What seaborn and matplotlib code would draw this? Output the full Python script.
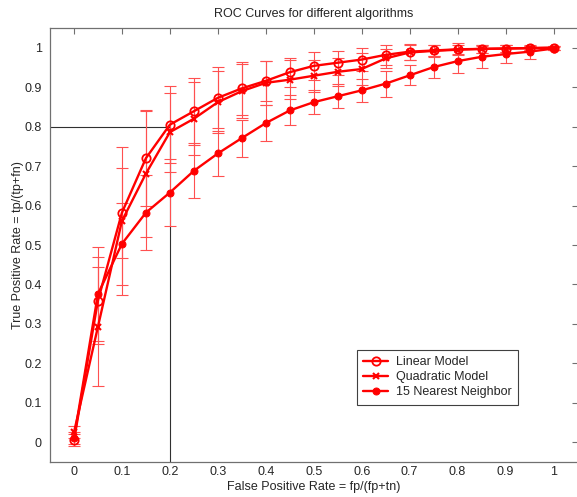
import matplotlib
matplotlib.use("Agg")
import matplotlib.pyplot as plt
import matplotlib.ticker as mticker
import numpy as np
import pandas as pd
import seaborn as sns

# False positive rate grid
fpr = [0.00, 0.05, 0.10, 0.15, 0.20, 0.25, 0.30, 0.35, 0.40, 0.45, 0.50,
       0.55, 0.60, 0.65, 0.70, 0.75, 0.80, 0.85, 0.90, 0.95, 1.00]

# True positive rate per model
tpr_linear = [0.005, 0.359, 0.582, 0.720, 0.805, 0.839, 0.873, 0.897, 0.916, 0.938, 0.954,
              0.962, 0.970, 0.982, 0.990, 0.993, 0.996, 0.997, 0.998, 0.999, 1.000]
tpr_quad = [0.025, 0.293, 0.561, 0.681, 0.786, 0.820, 0.862, 0.890, 0.911, 0.919, 0.929,
            0.939, 0.946, 0.973, 0.988, 0.992, 0.995, 0.997, 0.998, 0.999, 1.000]
tpr_knn = [0.010, 0.376, 0.503, 0.582, 0.633, 0.688, 0.732, 0.771, 0.809, 0.841, 0.862,
           0.877, 0.892, 0.909, 0.930, 0.951, 0.966, 0.977, 0.984, 0.990, 0.998]

# error bar half-widths
err_linear = [0.015, 0.110, 0.114, 0.120, 0.098, 0.085, 0.077, 0.067, 0.050, 0.037, 0.035,
              0.030, 0.030, 0.025, 0.020, 0.015, 0.015, 0.010, 0.008, 0.006, 0.005]
err_quad = [0.015, 0.150, 0.188, 0.160, 0.100, 0.092, 0.079, 0.068, 0.055, 0.050, 0.040,
            0.035, 0.040, 0.025, 0.020, 0.015, 0.012, 0.010, 0.008, 0.006, 0.005]
err_knn = [0.015, 0.120, 0.104, 0.095, 0.086, 0.070, 0.057, 0.047, 0.045, 0.038, 0.030,
           0.030, 0.030, 0.033, 0.025, 0.028, 0.030, 0.028, 0.022, 0.018, 0.005]

labels = ["Linear Model", "Quadratic Model", "15 Nearest Neighbor"]
ticks = [0, 0.1, 0.2, 0.3, 0.4, 0.5, 0.6, 0.7, 0.8, 0.9, 1]

sns.set_style("white")
plt.rcParams['font.family'] = ['Liberation Sans', 'DejaVu Sans']
plt.rcParams['font.size'] = 9

fig = plt.figure(figsize=(5.77, 4.97), dpi=100)
ax = fig.add_axes([50 / 577, 35 / 497, 527.5 / 577, 434 / 497])

series = [
    (tpr_linear, err_linear, dict(marker='o', mfc='none', mec='red', mew=1.3, ms=6)),
    (tpr_quad, err_quad, dict(marker='x', mec='red', mew=1.5, ms=4.5)),
    (tpr_knn, err_knn, dict(marker='o', mfc='red', mec='red', ms=5)),
]

# error bars first, so the curves sit on top
for tpr, err, _ in series:
    ax.errorbar(fpr, tpr, yerr=err, fmt='none', ecolor='#ff5050', elinewidth=0.8,
                capsize=4.5, capthick=0.8, zorder=2)

for (tpr, err, mk), lab in zip(series, labels):
    df = pd.DataFrame({"fpr": fpr, "tpr": tpr})
    sns.lineplot(data=df, x="fpr", y="tpr", ax=ax, color='red', linewidth=1.7,
                 label=lab, zorder=3, **mk)

# reference lines at fpr = 0.2
ax.plot([-0.05, 0.2], [0.8, 0.8], color='#303030', lw=0.8, zorder=1)
ax.plot([0.2, 0.2], [-0.05, 0.8], color='#303030', lw=0.8, zorder=1)

ax.set_xlim(-0.05, 1.05)
ax.set_ylim(-0.05, 1.05)
ax.set_xticks(ticks)
ax.set_yticks(ticks)
ax.xaxis.set_major_formatter(mticker.FormatStrFormatter('%g'))
ax.yaxis.set_major_formatter(mticker.FormatStrFormatter('%g'))
ax.tick_params(direction='in', top=True, right=True, length=4, width=0.8,
               color='#707070', labelsize=9)
ax.tick_params(axis='x', pad=3)
ax.tick_params(axis='y', pad=6)
for s in ax.spines.values():
    s.set_color('#707070')
    s.set_linewidth(0.9)

ax.set_title("ROC Curves for different algorithms", fontsize=9, pad=8)
ax.set_xlabel("False Positive Rate = fp/(fp+tn)", fontsize=9, labelpad=2)
ax.set_ylabel("True Positive Rate = tp/(tp+fn)", fontsize=9, labelpad=0)

leg = ax.legend(loc='upper left', bbox_to_anchor=(0.59, 0.234),
                bbox_transform=ax.transData, fancybox=False, framealpha=1,
                edgecolor='#404040', fontsize=9, handlelength=2.0,
                borderpad=0.5, labelspacing=0.25, handletextpad=0.6,
                borderaxespad=0)
leg.get_frame().set_linewidth(0.8)

fig.savefig("out.png", dpi=100)
